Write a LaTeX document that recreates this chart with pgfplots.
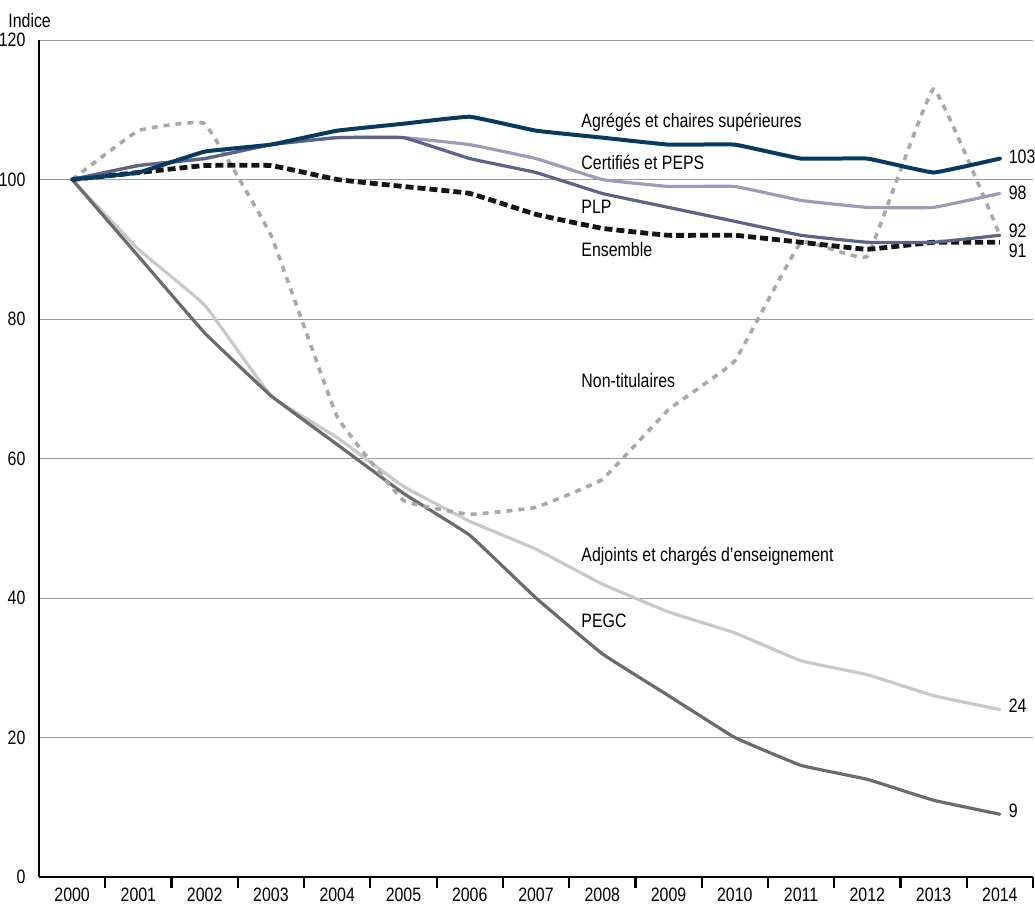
\documentclass[border=0pt]{standalone}
\usepackage{fontspec}
\setmainfont{Liberation Sans}[FakeStretch=0.82]
\usepackage{pgfplots}
\pgfplotsset{compat=1.18}

\definecolor{agreg}{HTML}{063A5E}
\definecolor{certif}{HTML}{9C9CB8}
\definecolor{plp}{HTML}{5B6388}
\definecolor{ensemble}{HTML}{151515}
\definecolor{nontit}{HTML}{A8A8A8}
\definecolor{adjoints}{HTML}{C8C8C8}
\definecolor{pegc}{HTML}{6B6B6B}

\begin{document}
\begin{tikzpicture}[font=\fontsize{9.7}{11}\selectfont]
\useasboundingbox (-19.5pt,-15pt) rectangle (498pt,438.5pt);
\begin{axis}[
    scale only axis,
    width=497pt, height=418.5pt,
    xmin=-0.5, xmax=14.5,
    ymin=0, ymax=120,
    axis x line*=bottom,
    axis y line*=left,
    axis line style={black, line width=1.1pt},
    xtick={0,...,14},
    xticklabels={2000,2001,2002,2003,2004,2005,2006,2007,2008,2009,2010,2011,2012,2013,2014},
    minor xtick={0.5,1.5,...,14.5},
    major x tick style={draw=none},
    minor x tick style={black, line width=1.1pt},
    minor tick length=5.5pt,
    tick align=outside,
    ytick={0,20,...,120},
    major y tick style={draw=none},
    ymajorgrids,
    grid style={gray!80, line width=0.5pt},
    /pgf/number format/assume math mode=true,
    ticklabel style={font=\fontsize{9.7}{11}\selectfont},
    yticklabel style={xshift=1pt},
    xticklabel style={yshift=2.5pt},
    clip=false,
    every axis plot/.append style={line join=round, line cap=round, smooth, tension=0.15},
]
% Adjoints et chargés d'enseignement
\addplot[adjoints, line width=1.6pt] coordinates {
(0,100) (1,90) (2,82) (3,69) (4,63) (5,56) (6,51) (7,47) (8,42) (9,38) (10,35) (11,31) (12,29) (13,26) (14,24)};
% PEGC
\addplot[pegc, line width=1.6pt] coordinates {
(0,100) (1,89) (2,78) (3,69) (4,62) (5,55) (6,49) (7,40) (8,32) (9,26) (10,20) (11,16) (12,14) (13,11) (14,9)};
% Non-titulaires
\addplot[nontit, line width=1.8pt, line cap=butt, dash pattern=on 3pt off 3pt] coordinates {
(0,100) (1,107) (2,108) (3,92) (4,66) (5,54) (6,52) (7,53) (8,57) (9,67) (10,74) (11,91) (12,89) (13,113) (14,92)};
% Ensemble
\addplot[ensemble, line width=2.4pt, line cap=butt, dash pattern=on 4pt off 2pt] coordinates {
(0,100) (1,101) (2,102) (3,102) (4,100) (5,99) (6,98) (7,95) (8,93) (9,92) (10,92) (11,91) (12,90) (13,91) (14,91)};
% Certifiés et PEPS
\addplot[certif, line width=1.6pt] coordinates {
(0,100) (1,102) (2,103) (3,105) (4,106) (5,106) (6,105) (7,103) (8,100) (9,99) (10,99) (11,97) (12,96) (13,96) (14,98)};
% PLP
\addplot[plp, line width=1.6pt] coordinates {
(0,100) (1,102) (2,103) (3,105) (4,106) (5,106) (6,103) (7,101) (8,98) (9,96) (10,94) (11,92) (12,91) (13,91) (14,92)};
% Agrégés et chaires supérieures
\addplot[agreg, line width=2pt] coordinates {
(0,100) (1,101) (2,104) (3,105) (4,107) (5,108) (6,109) (7,107) (8,106) (9,105) (10,105) (11,103) (12,103) (13,101) (14,103)};

\node[anchor=west, inner sep=0pt] at (axis cs:7.68,108.2) {Agrégés et chaires supérieures};
\node[anchor=west, inner sep=0pt] at (axis cs:7.68,102.4) {Certifiés et PEPS};
\node[anchor=west, inner sep=0pt] at (axis cs:7.68,96.1) {PLP};
\node[anchor=west, inner sep=0pt] at (axis cs:7.68,90.0) {Ensemble};
\node[anchor=west, inner sep=0pt] at (axis cs:7.68,71.2) {Non-titulaires};
\node[anchor=west, inner sep=0pt] at (axis cs:7.68,46.0) {Adjoints et chargés d'enseignement};
\node[anchor=west, inner sep=0pt] at (axis cs:7.68,36.7) {PEGC};

\node[anchor=west, inner sep=0pt] at (axis cs:14.13,103.2) {103};
\node[anchor=west, inner sep=0pt] at (axis cs:14.13,98.1) {98};
\node[anchor=west, inner sep=0pt] at (axis cs:14.13,92.7) {92};
\node[anchor=west, inner sep=0pt] at (axis cs:14.13,89.8) {91};
\node[anchor=west, inner sep=0pt] at (axis cs:14.13,24.6) {24};
\node[anchor=west, inner sep=0pt] at (axis cs:14.13,9.5) {9};

\node[anchor=base west, inner sep=0pt] at ([xshift=-15.5pt,yshift=6.5pt]rel axis cs:0,1) {Indice};
\end{axis}
\end{tikzpicture}
\end{document}
